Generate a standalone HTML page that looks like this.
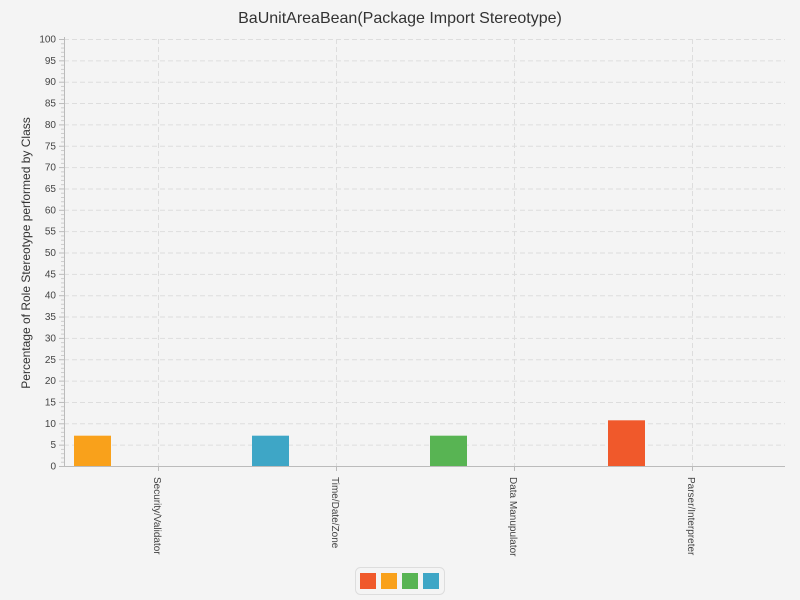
<!DOCTYPE html>
<html><head><meta charset="utf-8"><style>
body{margin:0;background:#f4f4f4;font-family:"Liberation Sans",sans-serif;}
svg{display:block}
</style></head><body>
<svg id="c" width="800" height="600">
<rect width="800" height="600" fill="#f4f4f4"/>
<text x="400" y="23" text-anchor="middle" font-size="16" fill="#333">BaUnitAreaBean(Package Import Stereotype)</text>
<text transform="translate(30,253) rotate(-90)" text-anchor="middle" font-size="12" fill="#333">Percentage of Role Stereotype performed by Class</text>
<g id="grid"></g><g id="bars"></g><g id="axes"></g>
<g>
<rect x="355.5" y="567.5" width="89" height="27" rx="5" fill="#f4f4f4" stroke="#ddd"/>
<g id="legend"></g>
</g>
</svg>
<script>
const categories=["Security/Validator","Time/Date/Zone","Data Manupulator","Parser/Interpreter"];
const values=[7.1,7.1,7.1,10.7];
const barColors=["#f9a11b","#3ea6c6","#58b453","#f0592b"];
const seriesColors=["#f0592b","#f9a11b","#58b453","#3ea6c6"];
const yTicks=[0,5,10,15,20,25,30,35,40,45,50,55,60,65,70,75,80,85,90,95,100];
const NS="http://www.w3.org/2000/svg";
const X0=64,X1=785,Y0=466,Y1=39,bandStart=69,band=178;
const y=v=>Y0-(v/100)*(Y0-Y1);
const xc=i=>bandStart+band*i+band/2;
function mk(t,a,p){const e=document.createElementNS(NS,t);for(const k in a)e.setAttribute(k,a[k]);p.appendChild(e);return e;}
const grid=document.getElementById('grid'),bars=document.getElementById('bars'),axes=document.getElementById('axes'),leg=document.getElementById('legend');
yTicks.forEach(v=>{
 if(v>0){const l=mk('line',{x1:X0,x2:X1,y1:y(v)+.5,y2:y(v)+.5,stroke:'#ddd','stroke-dasharray':'5,3'},grid);
 
 }
 const t=mk('text',{x:X0-8,y:y(v)+3.5,'text-anchor':'end','font-size':'10',fill:'#444'},axes);t.textContent=v;
 
 
 mk('line',{x1:X0-5,x2:X0,y1:y(v)+.5,y2:y(v)+.5,stroke:'#bbb'},axes);
 if(v<100)for(let m=1;m<5;m++){mk('line',{x1:X0-3,x2:X0,y1:y(v+m)+.5,y2:y(v+m)+.5,stroke:'#ccc'},axes);}
});
categories.forEach((c,i)=>{
 const g=mk('line',{x1:xc(i)+.5,x2:xc(i)+.5,y1:Y1,y2:Y0,stroke:'#ddd','stroke-dasharray':'5,3'},grid);
 
 
 const b=mk('rect',{x:bandStart+band*i+5,y:y(values[i]),width:37,height:Y0-y(values[i]),fill:barColors[i]},bars);
 
 
 mk('line',{x1:xc(i)+.5,x2:xc(i)+.5,y1:Y0,y2:Y0+5,stroke:'#bbb'},axes);
 const t=mk('text',{transform:`translate(${xc(i)-4},${Y0+11}) rotate(90)`,'font-size':'10',fill:'#444'},axes);t.textContent=c;
 
 
});
mk('line',{x1:X0+.5,x2:X0+.5,y1:Y1-2,y2:Y0,stroke:'#bbb'},axes);
mk('line',{x1:X0,x2:X1,y1:Y0+.5,y2:Y0+.5,stroke:'#bbb'},axes);
seriesColors.forEach((col,i)=>{
 const r=mk('rect',{x:360+21*i,y:573,width:16,height:16,fill:col},leg);
 
 
});
</script>
</body></html>
